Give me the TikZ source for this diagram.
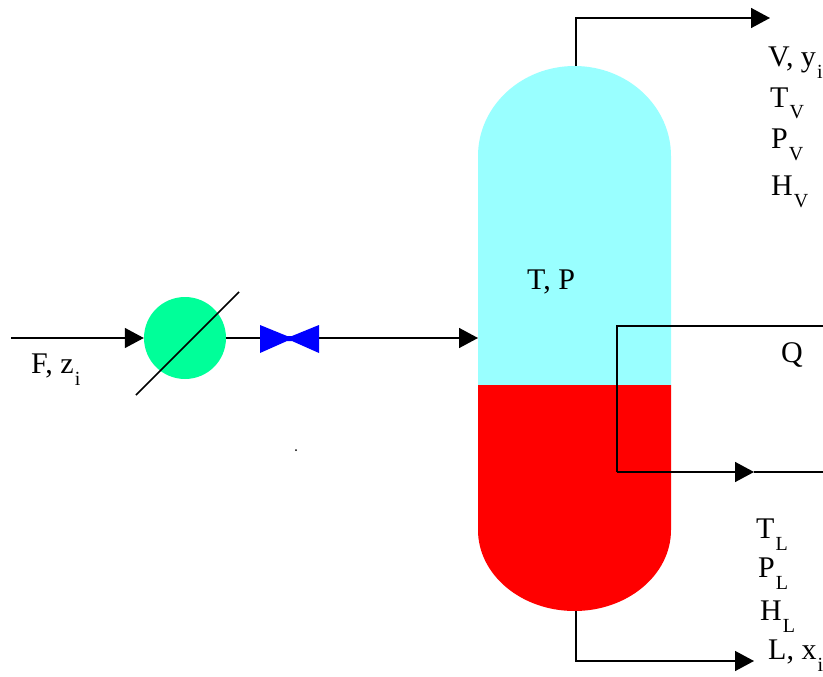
\documentclass[tikz,border=0pt]{standalone}
\usepackage{fontspec}
\setmainfont{Liberation Serif}
\usepackage{tikz}
\usetikzlibrary{arrows.meta}
\tikzset{%
  pipe/.style={%
    draw,%
    line width=1.5pt},
  flow/.style={%
    pipe,%
    -{Triangle[length=19pt,width=20pt]}},
  tag/.style={%
    anchor=base west,%
    inner sep=0pt,%
    font=\fontsize{30}{30}\selectfont}
}
\definecolor{vapour}{HTML}{99FFFF}
\definecolor{liquid}{HTML}{FF0000}
\definecolor{cooler}{HTML}{00FF99}
\definecolor{valve}{HTML}{0000FF}
\newcommand{\low}[1]{\kern1pt\raisebox{-12pt}{\fontsize{20}{20}\selectfont #1}}

\begin{document}
\begin{tikzpicture}[x=1pt,y=-1pt]
  \useasboundingbox (0,0) rectangle (823,677);
  % vessel
  \fill [vapour] (478,385) -- (478,156) arc [start angle=180,end angle=0,x radius=96.5,y radius=-90]
    -- (671,385) -- cycle;
  \fill [liquid] (478,385) -- (478,530) arc [start angle=180,end angle=360,x radius=96.5,y radius=-81]
    -- (671,385) -- cycle;
  \coordinate (top) at (576,66);
  \coordinate (bottom) at (576,611);
  \coordinate (inlet) at (478,338);
  % feed line
  \coordinate (feed) at (11,338);
  \node [circle,fill=cooler,minimum size=82pt,inner sep=0pt] (heater) at (185,338) {};
  \coordinate (valveleft) at (260,338);
  \coordinate (valveright) at (319,338);
  \draw [flow] (feed) -- (heater.west);
  \draw [pipe] (heater.east) -- (valveleft);
  \draw [flow] (valveright) -- (inlet);
  \draw [line width=1.5pt] (136,395) -- (239,292);
  \fill [valve] (260,325) -- (287,336) -- (292,336) -- (319,325) -- (319,353)
    -- (292,341) -- (287,341) -- (260,353) -- cycle;
  % vapour, liquid
  \coordinate (vapourend) at (770,18);
  \coordinate (liquidend) at (754,661);
  \draw [flow] (top) |- (vapourend);
  \draw [flow] (bottom) |- (liquidend);
  % coil
  \coordinate (coilin) at (823,326);
  \coordinate (coilcorner) at (617,326);
  \coordinate (coilbend) at (617,472);
  \coordinate (coiltip) at (754,472);
  \coordinate (coilout) at (823,472);
  \draw [pipe] (coilin) -- (coilcorner) -- (coilbend);
  \draw [flow] (coilbend) -- (coiltip);
  \draw [pipe] (coiltip) -- (coilout);
  % labels
  \node [tag] (feedtag) at (31,373) {F, z\low{i}};
  \node [tag] (state) at (527,289) {T, P};
  \node [tag] (heat) at (781,362) {Q};
  \node [tag] (vtag) at (768,67) {V, y\low{i}};
  \node [tag] (tv) at (770,107) {T\low{V}};
  \node [tag] (pv) at (771,149) {P\low{V}};
  \node [tag] (hv) at (771,195) {H\low{V}};
  \node [tag] (tl) at (756,538) {T\low{L}};
  \node [tag] (pl) at (758,577) {P\low{L}};
  \node [tag] (hl) at (760,620) {H\low{L}};
  \node [tag] (ltag) at (768,659) {L, x\low{i}};
  \node [circle,fill,inner sep=0pt,minimum size=2pt] (speck) at (296,450) {};
\end{tikzpicture}
\end{document}
